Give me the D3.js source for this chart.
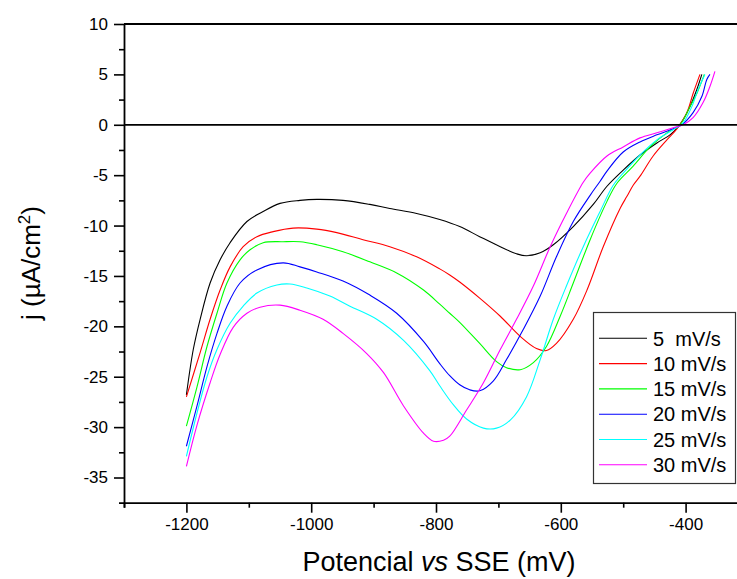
<!DOCTYPE html>
<html>
<head>
<meta charset="utf-8">
<script src="https://cdn.jsdelivr.net/npm/d3@7"></script>
<style>
  html, body { margin: 0; padding: 0; background: #fff; }
  svg { display: block; font-family: "Liberation Sans", Arial, sans-serif; }
</style>
</head>
<body>
<svg id="chart" width="737" height="579"></svg>
<script>
// ---- data (potential in mV vs SSE, current density in µA/cm²) ----
const seriesLabels = ["5  mV/s", "10 mV/s", "15 mV/s", "20 mV/s", "25 mV/s", "30 mV/s"];
const seriesColors = ["#000000", "#ff0000", "#00ff00", "#0000ff", "#00ffff", "#ff00ff"];

const e5  = [-1200,-1189,-1178,-1162,-1146,-1130,-1103,-1077,-1050,-1018,-991,-949,-906,-874,-831,-794,-762,-730,-697,-671,-655,-633,-612,-580,-548,-526,-500,-473,-446,-425,-412,-404,-393,-382,-374];
const j5  = [-26.8,-22.3,-19.3,-15.7,-13.4,-11.7,-9.6,-8.6,-7.8,-7.5,-7.4,-7.5,-7.9,-8.3,-8.8,-9.4,-10.1,-11.1,-12.1,-12.8,-13.0,-12.7,-11.9,-10.1,-7.9,-6.1,-4.5,-3.0,-1.8,-1.0,-0.2,0.5,1.8,3.5,5.0];

const e10 = [-1200,-1178,-1162,-1146,-1130,-1109,-1087,-1061,-1029,-991,-959,-917,-874,-831,-794,-778,-762,-730,-697,-665,-639,-623,-607,-580,-558,-532,-505,-494,-484,-473,-452,-430,-414,-398,-388,-377];
const j10 = [-27.0,-22.6,-19.3,-16.4,-14.1,-12.1,-11.1,-10.6,-10.25,-10.35,-10.7,-11.4,-12.1,-13.1,-14.3,-14.9,-15.6,-17.2,-19.0,-21.0,-22.2,-22.4,-21.7,-19.3,-16.4,-12.1,-8.3,-7.1,-6.0,-5.1,-3.1,-1.5,-0.4,1.2,3.1,5.0];

const e15 = [-1200,-1183,-1167,-1151,-1135,-1114,-1098,-1077,-1045,-1018,-991,-949,-906,-863,-820,-794,-778,-762,-730,-703,-687,-665,-644,-623,-601,-580,-553,-526,-510,-484,-457,-430,-409,-393,-382,-370];
const j15 = [-29.9,-26.0,-22.0,-18.7,-15.7,-13.4,-12.4,-11.7,-11.6,-11.6,-11.9,-12.6,-13.6,-14.7,-16.4,-17.8,-18.7,-19.6,-21.7,-23.5,-24.1,-24.3,-23.6,-22.0,-19.0,-15.7,-11.4,-7.6,-5.8,-4.1,-2.2,-0.8,0.0,1.8,3.1,5.0];

const e20 = [-1200,-1183,-1167,-1151,-1135,-1114,-1087,-1045,-1018,-991,-949,-906,-863,-820,-794,-778,-762,-746,-730,-708,-687,-660,-633,-607,-580,-553,-537,-526,-500,-473,-446,-420,-406,-388,-374,-366,-361];
const j20 = [-31.9,-27.9,-24.0,-20.7,-18.0,-15.7,-14.4,-13.7,-14.1,-14.6,-15.5,-16.9,-18.7,-21.5,-23.7,-24.9,-25.8,-26.3,-26.4,-25.4,-23.3,-20.3,-17.0,-13.1,-9.6,-7.0,-5.6,-4.6,-2.7,-1.7,-1.0,-0.4,0.0,1.2,2.8,4.5,5.0];

const e25 = [-1200,-1183,-1167,-1151,-1130,-1109,-1087,-1055,-1034,-1007,-970,-938,-895,-852,-810,-794,-772,-751,-724,-703,-681,-655,-633,-612,-591,-564,-537,-516,-500,-473,-446,-420,-404,-390,-380,-369];
const j25 = [-32.9,-28.6,-25.0,-22.3,-19.7,-18.0,-16.7,-15.9,-15.8,-16.2,-17.0,-18.0,-19.3,-21.4,-24.4,-25.9,-27.8,-29.2,-30.1,-30.1,-29.3,-27.0,-23.3,-19.3,-16.0,-12.1,-8.6,-6.0,-4.8,-3.0,-1.5,-0.5,0.2,1.8,3.5,5.0];

const e30 = [-1200,-1183,-1162,-1146,-1125,-1103,-1082,-1050,-1018,-981,-949,-911,-884,-852,-820,-804,-788,-778,-751,-724,-697,-671,-644,-617,-591,-564,-553,-526,-500,-473,-446,-420,-404,-388,-372,-361,-353];
const j30 = [-33.9,-29.8,-25.6,-22.8,-20.1,-18.7,-18.1,-17.9,-18.4,-19.3,-20.7,-22.7,-24.6,-27.9,-30.6,-31.4,-31.3,-30.9,-28.3,-25.6,-22.3,-19.3,-16.0,-12.1,-8.8,-5.7,-4.8,-3.1,-2.2,-1.3,-0.8,-0.3,0.0,0.7,2.2,3.8,5.3];

const potentials = [e5, e10, e15, e20, e25, e30];
const currents   = [j5, j10, j15, j20, j25, j30];

const xMajorTicks = [-1200, -1000, -800, -600, -400];
const xMinorTicks = [-1300, -1100, -900, -700, -500, -300];
const yMajorTicks = [10, 5, 0, -5, -10, -15, -20, -25, -30, -35];
const yMinorTicks = [7.5, 2.5, -2.5, -7.5, -12.5, -17.5, -22.5, -27.5, -32.5];

// ---- layout ----
const svg = d3.select("#chart");
const pLeft = 124, pRight = 748, pTop = 24, pBottom = 502.7;

const x = d3.scaleLinear().domain([-1300, -300]).range([pLeft, pRight]);
const y = d3.scaleLinear().domain([-37.5, 10]).range([pBottom, pTop]);

// curves
const line = d3.line()
  .x(d => x(d[0]))
  .y(d => y(d[1]))
  .curve(d3.curveCatmullRom.alpha(0.5));

const gCurves = svg.append("g");
potentials.forEach((ev, i) => {
  const pts = ev.map((e, k) => [e, currents[i][k]]);
  gCurves.append("path")
    .datum(pts)
    .attr("fill", "none")
    .attr("stroke", seriesColors[i])
    .attr("stroke-width", 1.1)
    .attr("stroke-linejoin", "round")
    .attr("d", line);
});

// zero line
svg.append("line")
  .attr("x1", pLeft).attr("x2", pRight)
  .attr("y1", y(0)).attr("y2", y(0))
  .attr("stroke", "#000").attr("stroke-width", 1.8);

// frame top
svg.append("line")
  .attr("x1", pLeft).attr("x2", pRight)
  .attr("y1", pTop).attr("y2", pTop)
  .attr("stroke", "#000").attr("stroke-width", 1.8);

// axes
function styleAxis(g) {
  g.select(".domain").attr("stroke", "#000").attr("stroke-width", 1.8);
  g.selectAll(".tick line").attr("stroke", "#000").attr("stroke-width", 1.6);
  g.selectAll(".tick text")
    .attr("fill", "#000")
    .style("font-family", "'Liberation Sans', Arial, sans-serif")
    .style("font-size", "17px");
}

const xAxisMinor = svg.append("g")
  .attr("transform", `translate(0,${pBottom})`)
  .call(d3.axisBottom(x).tickValues(xMinorTicks).tickSize(5).tickFormat(""));
xAxisMinor.select(".domain").remove();
xAxisMinor.selectAll(".tick line").attr("stroke", "#000").attr("stroke-width", 1.6);

const xAxis = svg.append("g")
  .attr("transform", `translate(0,${pBottom})`)
  .call(d3.axisBottom(x).tickValues(xMajorTicks).tickSize(10).tickSizeOuter(0).tickPadding(5).tickFormat(d => String(d)));
styleAxis(xAxis);
xAxis.select(".domain").attr("d", `M${pLeft - 5},0.5H${pRight}`);

const yAxisMinor = svg.append("g")
  .attr("transform", `translate(${pLeft},0)`)
  .call(d3.axisLeft(y).tickValues(yMinorTicks).tickSize(5).tickFormat(""));
yAxisMinor.select(".domain").remove();
yAxisMinor.selectAll(".tick line").attr("stroke", "#000").attr("stroke-width", 1.6);

const yAxis = svg.append("g")
  .attr("transform", `translate(${pLeft},0)`)
  .call(d3.axisLeft(y).tickValues(yMajorTicks).tickSize(10).tickSizeOuter(0).tickPadding(6).tickFormat(d => String(d)));
styleAxis(yAxis);
yAxis.select(".domain").attr("d", `M0.5,${pTop}V${pBottom + 5}`);

// axis titles
const xTitle = svg.append("text")
  .attr("x", 439).attr("y", 571)
  .attr("text-anchor", "middle")
  .style("font-size", "27px")
  .attr("fill", "#000");
xTitle.append("tspan").text("Potencial ");
xTitle.append("tspan").style("font-style", "italic").text("vs");
xTitle.append("tspan").text(" SSE (mV)");

const yTitle = svg.append("text")
  .attr("transform", "translate(40,263) rotate(-90)")
  .attr("text-anchor", "middle")
  .style("font-size", "26px")
  .attr("fill", "#000");
yTitle.append("tspan").text("j (µA/cm");
yTitle.append("tspan").attr("dy", -10).style("font-size", "17px").text("2");
yTitle.append("tspan").attr("dy", 10).text(")");

// legend
const lg = svg.append("g");
lg.append("rect")
  .attr("x", 593.5).attr("y", 312.5)
  .attr("width", 142).attr("height", 171)
  .attr("fill", "#fff").attr("stroke", "#333").attr("stroke-width", 1.2);
seriesLabels.forEach((lab, i) => {
  const yy = 338.3 + i * 25.3;
  lg.append("line")
    .attr("x1", 599).attr("x2", 647)
    .attr("y1", yy).attr("y2", yy)
    .attr("stroke", seriesColors[i]).attr("stroke-width", 1.1);
  lg.append("text")
    .attr("x", 653).attr("y", yy)
    .attr("dy", "0.36em")
    .style("font-size", "20px")
    .style("white-space", "pre")
    .attr("fill", "#000")
    .text(lab);
});
</script>
</body>
</html>
